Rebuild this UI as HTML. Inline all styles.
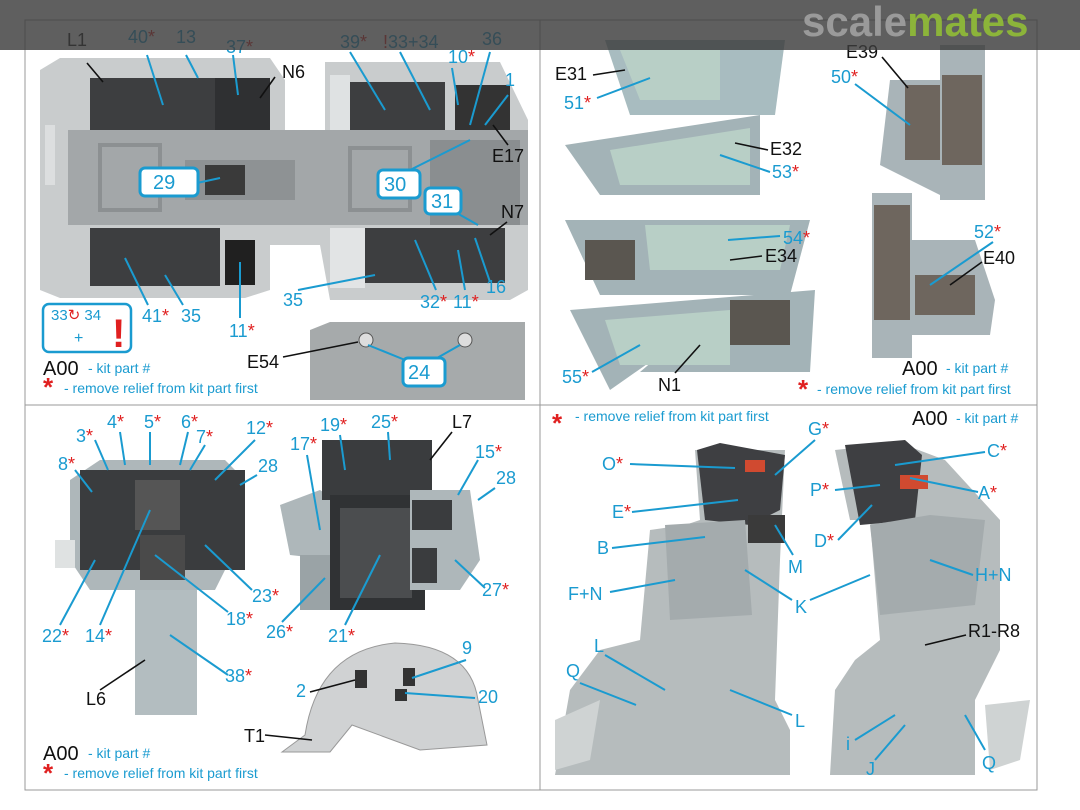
<!DOCTYPE html>
<html><head><meta charset="utf-8"><style>
html,body{margin:0;padding:0;background:#fff;}
svg{display:block;font-family:"Liberation Sans",sans-serif;}
.b{fill:#1a9bd0;font-size:18px}
.k{fill:#111;font-size:18px}
.r{fill:#e02020}
.lb{stroke:#1a9bd0;stroke-width:2;fill:none}
.lk{stroke:#111;stroke-width:1.6;fill:none}
.bx{fill:#fff;stroke:#1a9bd0;stroke-width:3}
</style></head><body>
<svg width="1080" height="810" viewBox="0 0 1080 810">
<rect x="0" y="0" width="1080" height="810" fill="#fff"/>
<rect x="25" y="20" width="1012" height="770" fill="none" stroke="#999" stroke-width="1"/>
<line x1="540" y1="20" x2="540" y2="790" stroke="#999"/>
<line x1="25" y1="405" x2="1037" y2="405" stroke="#999"/>

<!-- Q1 cockpit tub -->
<path d="M40 70 L60 58 L270 58 L285 80 L285 130 L325 130 L325 62 L500 62 L528 120 L528 290 L510 300 L330 300 L320 245 L270 245 L270 290 L245 298 L60 298 L40 290 Z" fill="#c9cccd"/>
<rect x="45" y="125" width="10" height="60" fill="#dcdedf"/>
<rect x="68" y="130" width="460" height="95" fill="#a3a7a9"/>
<rect x="100" y="145" width="60" height="65" fill="none" stroke="#8c9092" stroke-width="4"/>
<rect x="350" y="148" width="60" height="62" fill="none" stroke="#8c9092" stroke-width="4"/>
<rect x="185" y="160" width="110" height="40" fill="#8e9294"/>
<rect x="205" y="165" width="40" height="30" fill="#3a3a3a"/>
<rect x="430" y="140" width="90" height="85" fill="#8a8e90"/>
<rect x="90" y="78" width="180" height="52" fill="#3d3e40"/>
<rect x="215" y="78" width="55" height="52" fill="#2f3032"/>
<rect x="350" y="82" width="95" height="48" fill="#3d3e40"/>
<rect x="455" y="85" width="55" height="45" fill="#333"/>
<path d="M330 75 L350 75 L350 130 L330 130 Z" fill="#dfe2e3"/>
<rect x="90" y="228" width="130" height="58" fill="#3d3e40"/>
<rect x="225" y="240" width="30" height="45" fill="#202020"/>
<rect x="330" y="228" width="35" height="60" fill="#e2e4e5"/>
<rect x="365" y="228" width="140" height="55" fill="#3d3e40"/>
<path d="M310 330 L330 322 L525 322 L525 400 L310 400 Z" fill="#a6aaab"/>
<circle cx="366" cy="340" r="7" fill="#ddd" stroke="#555"/>
<circle cx="465" cy="340" r="7" fill="#ddd" stroke="#555"/>

<!-- Q1 labels -->
<text x="67" y="46" class="k">L1</text>
<text x="128" y="43" class="b">40<tspan class="r">*</tspan></text>
<text x="176" y="43" class="b">13</text>
<text x="226" y="53" class="b">37<tspan class="r">*</tspan></text>
<text x="282" y="78" class="k">N6</text>
<text x="340" y="48" class="b">39<tspan class="r">*</tspan></text>
<text x="383" y="48" class="b"><tspan class="r">!</tspan>33+34</text>
<text x="482" y="45" class="b">36</text>
<text x="448" y="63" class="b">10<tspan class="r">*</tspan></text>
<text x="505" y="86" class="b">1</text>
<text x="492" y="162" class="k">E17</text>
<text x="501" y="218" class="k">N7</text>
<text x="486" y="293" class="b">16</text>
<text x="420" y="308" class="b">32<tspan class="r">*</tspan></text>
<text x="453" y="308" class="b">11<tspan class="r">*</tspan></text>
<text x="283" y="306" class="b">35</text>
<text x="142" y="322" class="b">41<tspan class="r">*</tspan></text>
<text x="181" y="322" class="b">35</text>
<text x="229" y="337" class="b">11<tspan class="r">*</tspan></text>
<text x="247" y="368" class="k">E54</text>
<polyline class="lk" points="87,63 103,82"/><polyline class="lb" points="147,55 163,105"/><polyline class="lb" points="186,55 198,78"/><polyline class="lb" points="233,55 238,95"/><polyline class="lk" points="275,77 260,98"/>
<polyline class="lb" points="350,52 385,110"/><polyline class="lb" points="400,52 430,110"/><polyline class="lb" points="490,52 470,125"/><polyline class="lb" points="452,68 458,105"/><polyline class="lb" points="508,95 485,125"/>
<polyline class="lk" points="493,125 508,145"/><polyline class="lb" points="400,175 470,140"/><polyline class="lb" points="197,183 220,178"/><polyline class="lb" points="455,212 478,225"/><polyline class="lk" points="507,222 490,235"/>
<polyline class="lb" points="490,282 475,238"/><polyline class="lb" points="436,290 415,240"/><polyline class="lb" points="465,290 458,250"/><polyline class="lb" points="298,290 375,275"/><polyline class="lb" points="148,305 125,258"/><polyline class="lb" points="183,305 165,275"/><polyline class="lb" points="240,318 240,262"/>
<polyline class="lk" points="283,357 358,342"/><polyline class="lb" points="368,345 410,362"/><polyline class="lb" points="460,345 430,362"/>
<rect x="140" y="168" width="58" height="28" rx="5" class="bx"/><text x="153" y="189" class="b" style="font-size:20px">29</text>
<rect x="378" y="170" width="42" height="28" rx="5" class="bx"/><text x="384" y="191" class="b" style="font-size:20px">30</text>
<rect x="425" y="188" width="36" height="26" rx="5" class="bx"/><text x="431" y="208" class="b" style="font-size:20px">31</text>
<rect x="403" y="358" width="42" height="28" rx="5" class="bx"/><text x="408" y="379" class="b" style="font-size:20px">24</text>
<rect x="43" y="304" width="88" height="48" rx="6" class="bx" style="stroke-width:2.5"/>
<text x="51" y="320" class="b" style="font-size:15px">33<tspan class="r">↻</tspan> 34</text>
<text x="74" y="343" class="b" style="font-size:16px">+</text>
<text x="112" y="347" class="r" style="font-size:40px;font-weight:bold">!</text>
<text x="43" y="375" class="k" style="font-size:20px">A00</text><text x="88" y="373" class="b" style="font-size:14px">- kit part #</text>
<text x="43" y="396" class="r" style="font-size:26px;font-weight:bold">*</text><text x="64" y="393" class="b" style="font-size:14px">- remove relief from kit part first</text>

<!-- Q2 side panels -->
<path d="M605 40 L785 40 L775 115 L630 115 Z" fill="#a8bcc0"/>
<path d="M620 50 L720 50 L720 100 L640 100 Z" fill="#b8cfc6"/>
<path d="M565 145 L760 115 L760 195 L600 195 Z" fill="#a3b3b7"/>
<path d="M610 150 L750 128 L750 185 L620 185 Z" fill="#b8cfc6"/>
<path d="M565 220 L810 220 L790 295 L600 295 Z" fill="#a3b3b7"/>
<path d="M645 225 L790 225 L780 270 L650 270 Z" fill="#b8cfc6"/>
<rect x="585" y="240" width="50" height="40" fill="#5a5650"/>
<path d="M570 310 L815 290 L810 372 L640 372 L660 355 L610 390 Z" fill="#a3b3b7"/>
<path d="M605 320 L730 310 L730 365 L620 365 Z" fill="#b8cfc6"/>
<rect x="730" y="300" width="60" height="45" fill="#5a5650"/>
<path d="M890 80 L940 80 L940 195 L880 165 Z" fill="#a9b4b8"/>
<rect x="940" y="45" width="45" height="155" fill="#a9b4b8"/>
<path d="M905 85 L940 85 L940 160 L905 160 Z" fill="#6e665e"/>
<rect x="942" y="75" width="40" height="90" fill="#6e665e"/>
<rect x="872" y="193" width="40" height="165" fill="#a9b4b8"/>
<path d="M912 240 L975 240 L995 300 L990 335 L912 335 Z" fill="#a9b4b8"/>
<rect x="874" y="205" width="36" height="115" fill="#6e665e"/>
<rect x="915" y="275" width="60" height="40" fill="#6e665e"/>
<text x="555" y="80" class="k">E31</text><polyline class="lk" points="593,75 625,70"/>
<text x="564" y="109" class="b">51<tspan class="r">*</tspan></text><polyline class="lb" points="597,98 650,78"/>
<text x="770" y="155" class="k">E32</text><polyline class="lk" points="768,150 735,143"/>
<text x="772" y="178" class="b">53<tspan class="r">*</tspan></text><polyline class="lb" points="770,172 720,155"/>
<text x="783" y="244" class="b">54<tspan class="r">*</tspan></text><polyline class="lb" points="780,236 728,240"/>
<text x="765" y="262" class="k">E34</text><polyline class="lk" points="762,256 730,260"/>
<text x="562" y="383" class="b">55<tspan class="r">*</tspan></text><polyline class="lb" points="592,372 640,345"/>
<text x="658" y="391" class="k">N1</text><polyline class="lk" points="675,373 700,345"/>
<text x="846" y="58" class="k">E39</text><polyline class="lk" points="882,57 908,88"/>
<text x="831" y="83" class="b">50<tspan class="r">*</tspan></text><polyline class="lb" points="855,84 910,125"/>
<text x="974" y="238" class="b">52<tspan class="r">*</tspan></text><polyline class="lb" points="993,242 930,285"/>
<text x="983" y="264" class="k">E40</text><polyline class="lk" points="982,262 950,285"/>
<text x="902" y="375" class="k" style="font-size:20px">A00</text><text x="946" y="373" class="b" style="font-size:14px">- kit part #</text>
<text x="798" y="398" class="r" style="font-size:26px;font-weight:bold">*</text><text x="817" y="394" class="b" style="font-size:14px">- remove relief from kit part first</text>

<!-- Q3 instrument panels -->
<path d="M70 480 L100 460 L225 460 L245 480 L245 540 L225 570 L215 590 L90 590 L70 560 Z" fill="#aeb7ba"/>
<rect x="80" y="470" width="165" height="100" fill="#3a3c3e"/>
<rect x="135" y="480" width="45" height="50" fill="#555"/>
<rect x="140" y="535" width="45" height="45" fill="#4a4a4a"/>
<rect x="55" y="540" width="20" height="28" fill="#dfe2e2"/>
<rect x="135" y="590" width="62" height="125" fill="#b3bdc0"/>
<path d="M280 505 L320 490 L335 500 L335 560 L290 555 Z" fill="#aeb7ba"/>
<rect x="322" y="440" width="110" height="60" fill="#3a3c3e"/>
<rect x="330" y="495" width="95" height="115" fill="#303234"/>
<rect x="340" y="508" width="72" height="90" fill="#4b4d4f"/>
<path d="M410 490 L470 490 L480 560 L460 590 L410 590 Z" fill="#aeb7ba"/>
<rect x="412" y="500" width="40" height="30" fill="#3a3c3e"/><rect x="412" y="548" width="25" height="35" fill="#3a3c3e"/>
<rect x="300" y="555" width="30" height="55" fill="#9aa3a6"/>
<path d="M282 752 L305 735 Q318 650 395 643 Q470 645 478 700 L487 745 L420 750 L352 725 L330 752 Z" fill="#d0d2d3" stroke="#999"/>
<rect x="355" y="670" width="12" height="18" fill="#333"/><rect x="403" y="668" width="12" height="18" fill="#333"/><rect x="395" y="689" width="12" height="12" fill="#333"/>
<text x="76" y="442" class="b">3<tspan class="r">*</tspan></text>
<text x="107" y="428" class="b">4<tspan class="r">*</tspan></text>
<text x="144" y="428" class="b">5<tspan class="r">*</tspan></text>
<text x="181" y="428" class="b">6<tspan class="r">*</tspan></text>
<text x="196" y="443" class="b">7<tspan class="r">*</tspan></text>
<text x="246" y="434" class="b">12<tspan class="r">*</tspan></text>
<text x="58" y="470" class="b">8<tspan class="r">*</tspan></text>
<text x="258" y="472" class="b">28</text>
<text x="290" y="450" class="b">17<tspan class="r">*</tspan></text>
<text x="320" y="431" class="b">19<tspan class="r">*</tspan></text>
<text x="371" y="428" class="b">25<tspan class="r">*</tspan></text>
<text x="452" y="428" class="k">L7</text>
<text x="475" y="458" class="b">15<tspan class="r">*</tspan></text>
<text x="496" y="484" class="b">28</text>
<text x="252" y="602" class="b">23<tspan class="r">*</tspan></text>
<text x="482" y="596" class="b">27<tspan class="r">*</tspan></text>
<text x="42" y="642" class="b">22<tspan class="r">*</tspan></text>
<text x="85" y="642" class="b">14<tspan class="r">*</tspan></text>
<text x="226" y="625" class="b">18<tspan class="r">*</tspan></text>
<text x="266" y="638" class="b">26<tspan class="r">*</tspan></text>
<text x="328" y="642" class="b">21<tspan class="r">*</tspan></text>
<text x="225" y="682" class="b">38<tspan class="r">*</tspan></text>
<text x="86" y="705" class="k">L6</text>
<text x="296" y="697" class="b">2</text>
<text x="462" y="654" class="b">9</text>
<text x="478" y="703" class="b">20</text>
<text x="244" y="742" class="k">T1</text>
<polyline class="lb" points="95,440 108,470"/><polyline class="lb" points="120,432 125,465"/><polyline class="lb" points="150,432 150,465"/><polyline class="lb" points="188,432 180,465"/><polyline class="lb" points="205,445 190,470"/><polyline class="lb" points="255,440 215,480"/><polyline class="lb" points="75,470 92,492"/><polyline class="lb" points="257,475 240,485"/>
<polyline class="lb" points="307,455 320,530"/><polyline class="lb" points="340,435 345,470"/><polyline class="lb" points="388,432 390,460"/><polyline class="lk" points="452,432 430,460"/><polyline class="lb" points="478,460 458,495"/><polyline class="lb" points="495,488 478,500"/>
<polyline class="lb" points="252,590 205,545"/><polyline class="lb" points="485,588 455,560"/><polyline class="lb" points="60,625 95,560"/><polyline class="lb" points="100,625 150,510"/><polyline class="lb" points="228,612 155,555"/><polyline class="lb" points="282,622 325,578"/><polyline class="lb" points="345,625 380,555"/><polyline class="lb" points="228,675 170,635"/><polyline class="lk" points="100,690 145,660"/>
<polyline class="lk" points="310,692 355,680"/><polyline class="lb" points="466,660 412,678"/><polyline class="lb" points="475,698 405,693"/><polyline class="lk" points="265,735 312,740"/>
<text x="43" y="760" class="k" style="font-size:20px">A00</text><text x="88" y="758" class="b" style="font-size:14px">- kit part #</text>
<text x="43" y="782" class="r" style="font-size:26px;font-weight:bold">*</text><text x="64" y="778" class="b" style="font-size:14px">- remove relief from kit part first</text>

<!-- Q4 seats -->
<text x="552" y="432" class="r" style="font-size:26px;font-weight:bold">*</text><text x="575" y="421" class="b" style="font-size:14px">- remove relief from kit part first</text>
<text x="912" y="425" class="k" style="font-size:20px">A00</text><text x="956" y="423" class="b" style="font-size:14px">- kit part #</text>
<path d="M555 775 L570 690 L600 650 L640 640 L650 530 L685 525 L700 520 L695 450 L785 450 L780 560 L775 700 L790 730 L790 775 Z" fill="#b6bcbd"/>
<path d="M697 450 L720 443 L785 455 L780 510 L750 525 L705 520 Z" fill="#3e3f42"/>
<rect x="748" y="515" width="37" height="28" fill="#3a3a3a"/>
<rect x="745" y="460" width="20" height="12" fill="#d04a30"/>
<path d="M665 525 L745 520 L752 615 L670 620 Z" fill="#a4abad"/>
<path d="M830 775 L835 690 L855 660 L880 640 L870 520 L850 520 L835 450 L900 443 L945 460 L1000 520 L1000 650 L975 700 L975 775 Z" fill="#b6bcbd"/>
<path d="M845 445 L905 440 L922 455 L915 520 L860 525 Z" fill="#3e3f42"/>
<path d="M870 525 L930 515 L985 520 L975 605 L880 615 Z" fill="#a4abad"/>
<rect x="900" y="475" width="28" height="14" fill="#d04a30"/>
<path d="M985 705 L1030 700 L1020 760 L990 770 Z" fill="#cfd3d3"/>
<path d="M555 720 L600 700 L590 760 L555 770 Z" fill="#cfd3d3"/>
<text x="602" y="470" class="b">O<tspan class="r">*</tspan></text><polyline class="lb" points="630,464 735,468"/>
<text x="808" y="435" class="b">G<tspan class="r">*</tspan></text><polyline class="lb" points="815,440 775,475"/>
<text x="987" y="457" class="b">C<tspan class="r">*</tspan></text><polyline class="lb" points="985,452 895,465"/>
<text x="810" y="496" class="b">P<tspan class="r">*</tspan></text><polyline class="lb" points="835,490 880,485"/>
<text x="978" y="499" class="b">A<tspan class="r">*</tspan></text><polyline class="lb" points="978,492 910,478"/>
<text x="612" y="518" class="b">E<tspan class="r">*</tspan></text><polyline class="lb" points="632,512 738,500"/>
<text x="814" y="547" class="b">D<tspan class="r">*</tspan></text><polyline class="lb" points="838,540 872,505"/>
<text x="597" y="554" class="b">B</text><polyline class="lb" points="612,548 705,537"/>
<text x="788" y="573" class="b">M</text><polyline class="lb" points="793,555 775,525"/>
<text x="975" y="581" class="b">H+N</text><polyline class="lb" points="973,575 930,560"/>
<text x="568" y="600" class="b">F+N</text><polyline class="lb" points="610,592 675,580"/>
<text x="795" y="613" class="b">K</text><polyline class="lb" points="792,600 745,570"/><polyline class="lb" points="810,600 870,575"/>
<text x="968" y="637" class="k">R1-R8</text><polyline class="lk" points="966,635 925,645"/>
<text x="594" y="652" class="b">L</text><polyline class="lb" points="605,655 665,690"/>
<text x="566" y="677" class="b">Q</text><polyline class="lb" points="580,683 636,705"/>
<text x="795" y="727" class="b">L</text><polyline class="lb" points="792,715 730,690"/>
<text x="846" y="750" class="b">i</text><polyline class="lb" points="855,740 895,715"/>
<text x="866" y="775" class="b">J</text><polyline class="lb" points="875,760 905,725"/>
<text x="982" y="769" class="b">Q</text><polyline class="lb" points="985,750 965,715"/>

<!-- top banner -->
<rect x="0" y="0" width="1080" height="50" fill="#3c3c3c" opacity="0.82"/>
<text x="802" y="36" style="font-size:42px;font-weight:bold;fill:#9a9a9a">scale<tspan style="fill:#8cb43a">mates</tspan></text>
</svg>
</body></html>
